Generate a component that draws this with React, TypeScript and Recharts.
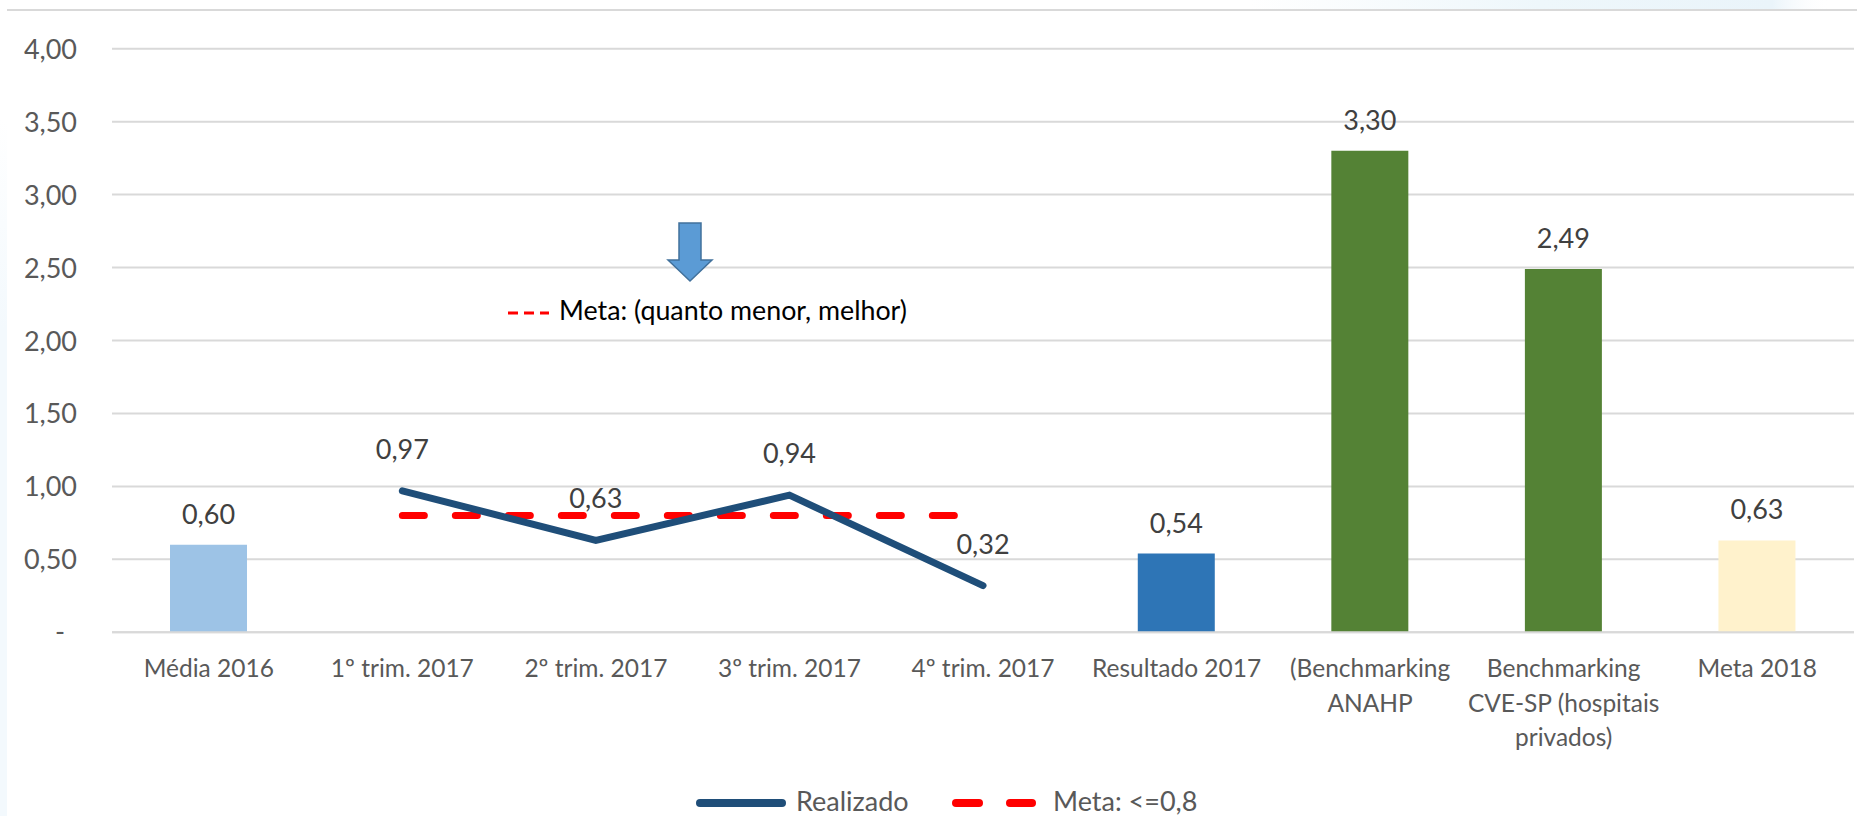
import React from "react";
import {
  ComposedChart,
  Bar,
  Line,
  XAxis,
  YAxis,
  CartesianGrid,
  Cell,
  LabelList,
  Legend,
} from "recharts";

const categories = [
  "Média 2016",
  "1º trim. 2017",
  "2º trim. 2017",
  "3º trim. 2017",
  "4º trim. 2017",
  "Resultado 2017",
  "(Benchmarking\nANAHP",
  "Benchmarking\nCVE-SP (hospitais\nprivados)",
  "Meta 2018",
];
const barValues = [0.6, null, null, null, null, 0.54, 3.3, 2.49, 0.63];
const barColors = [
  "#9DC3E6",
  "#9DC3E6",
  "#9DC3E6",
  "#9DC3E6",
  "#9DC3E6",
  "#2E75B6",
  "#548235",
  "#548235",
  "#FFF2CC",
];
const realizado = [null, 0.97, 0.63, 0.94, 0.32, null, null, null, null];
const meta = [null, 0.8, 0.8, 0.8, 0.8, null, null, null, null];
const yTicks = [0, 0.5, 1, 1.5, 2, 2.5, 3, 3.5, 4];

const data = categories.map((c, i) => ({
  name: c,
  bar: barValues[i],
  realizado: realizado[i],
  meta: meta[i],
}));

const FONT = "Lato, 'Open Sans', sans-serif";
const fmt = (v: any) =>
  v === null || v === undefined || v === "" ? "" : Number(v).toFixed(2).replace(".", ",");

const XTick = (props: any) => {
  const { x, y, payload } = props;
  const lines = String(payload.value).split("\n");
  return (
    <g>
      {lines.map((l: string, i: number) => (
        <text
          key={i}
          x={x}
          y={y + 45 + i * 34.5}
          textAnchor="middle"
          fill="#595959"
          fontSize={24.5}
          fontFamily={FONT}
        >
          {l}
        </text>
      ))}
    </g>
  );
};

const YTick = (props: any) => {
  const { x, y, payload } = props;
  const v = Number(payload.value);
  if (v === 0) {
    return (
      <text x={x - 52} y={y + 9} textAnchor="middle" fill="#595959" fontSize={27} fontFamily={FONT}>
        -
      </text>
    );
  }
  return (
    <text x={x - 35} y={y + 10} textAnchor="end" fill="#595959" fontSize={27} fontFamily={FONT}>
      {fmt(v)}
    </text>
  );
};

const LegendContent = () => (
  <svg width={1857} height={36} style={{ display: "block" }}>
    <line x1={700} y1={20} x2={782} y2={20} stroke="#1F4E79" strokeWidth={8} strokeLinecap="round" />
    <text x={796} y={28} fill="#595959" fontSize={27} fontFamily={FONT}>
      Realizado
    </text>
    <line x1={956} y1={20} x2={979} y2={20} stroke="#FF0000" strokeWidth={8} strokeLinecap="round" />
    <line x1={1010} y1={20} x2={1032} y2={20} stroke="#FF0000" strokeWidth={8} strokeLinecap="round" />
    <text x={1053} y={28} fill="#595959" fontSize={27} fontFamily={FONT}>
      Meta: &lt;=0,8
    </text>
  </svg>
);

export default function App() {
  return (
    <div
      style={{
        position: "absolute",
        left: 0,
        top: 0,
        width: 1857,
        height: 816,
        background: "#FFFFFF",
        overflow: "hidden",
      }}
    >
      <svg
        width={1857}
        height={816}
        style={{ position: "absolute", left: 0, top: 0 }}
      >
        <defs>
          <linearGradient id="topTint" x1="0" y1="0" x2="1" y2="0">
            <stop offset="0" stopColor="#EEF7FB" stopOpacity={0} />
            <stop offset="0.5" stopColor="#EEF7FB" stopOpacity={1} />
            <stop offset="0.9" stopColor="#EAF4FA" stopOpacity={1} />
            <stop offset="1" stopColor="#FFFFFF" stopOpacity={0} />
          </linearGradient>
          <linearGradient id="leftTint" x1="0" y1="0" x2="0" y2="1">
            <stop offset="0" stopColor="#F3F9FD" stopOpacity={0} />
            <stop offset="0.3" stopColor="#F3F9FD" stopOpacity={1} />
            <stop offset="1" stopColor="#F3F9FD" stopOpacity={1} />
          </linearGradient>
        </defs>
        <rect x={1250} y={0} width={580} height={9} fill="url(#topTint)" />
        <rect x={0} y={120} width={7} height={696} fill="url(#leftTint)" />
      </svg>
      <div style={{ position: "absolute", left: 0, top: 0 }}>
        <ComposedChart
          width={1857}
          height={816}
          data={data}
          margin={{ top: 48.7, right: 3, bottom: 83.7, left: 0 }}
        >
          <CartesianGrid vertical={false} stroke="#D9D9D9" strokeWidth={2} />
          <XAxis
            dataKey="name"
            interval={0}
            tickLine={false}
            tickSize={0}
            tickMargin={0}
            axisLine={{ stroke: "#D9D9D9", strokeWidth: 2 }}
            height={100}
            tick={<XTick />}
          />
          <YAxis
            domain={[0, 4]}
            ticks={yTicks}
            width={112}
            axisLine={false}
            tickLine={false}
            tickSize={0}
            tickMargin={0}
            tick={<YTick />}
          />
          <Bar dataKey="bar" barSize={77} isAnimationActive={false} legendType="none">
            {data.map((_, i) => (
              <Cell key={i} fill={barColors[i]} />
            ))}
            <LabelList
              dataKey="bar"
              position="top"
              offset={21}
              formatter={fmt}
              fill="#404040"
              fontSize={27}
              fontFamily={FONT}
            />
          </Bar>
          <Line
            dataKey="meta"
            stroke="#FF0000"
            strokeWidth={7}
            strokeDasharray="22 31"
            strokeLinecap="round"
            dot={false}
            activeDot={false}
            isAnimationActive={false}
          />
          <Line
            dataKey="realizado"
            stroke="#1F4E79"
            strokeWidth={7}
            strokeLinecap="round"
            dot={false}
            activeDot={false}
            isAnimationActive={false}
          >
            <LabelList
              dataKey="realizado"
              position="top"
              offset={32}
              formatter={fmt}
              fill="#404040"
              fontSize={27}
              fontFamily={FONT}
            />
          </Line>
          <Legend
            layout="horizontal"
            verticalAlign="middle"
            align="center"
            wrapperStyle={{ top: 783, left: 0, width: 1857, height: 36 }}
            content={<LegendContent />}
          />
        </ComposedChart>
      </div>
      <svg
        width={1857}
        height={816}
        style={{ position: "absolute", left: 0, top: 0, pointerEvents: "none" }}
      >
        <line x1={7} y1={10} x2={1857} y2={10} stroke="#D9D9D9" strokeWidth={2} />
        <polygon
          points="679,223 701,223 701,260 712,260 690,281 668,260 679,260"
          fill="#5B9BD5"
          stroke="#41719C"
          strokeWidth={1.5}
        />
        <line x1={508} y1={313} x2={549} y2={313} stroke="#FF0000" strokeWidth={3} strokeDasharray="10 6" />
        <text x={559} y={320} fill="#000000" fontSize={26.8} fontFamily={FONT}>
          Meta: (quanto menor, melhor)
        </text>
      </svg>
    </div>
  );
}
